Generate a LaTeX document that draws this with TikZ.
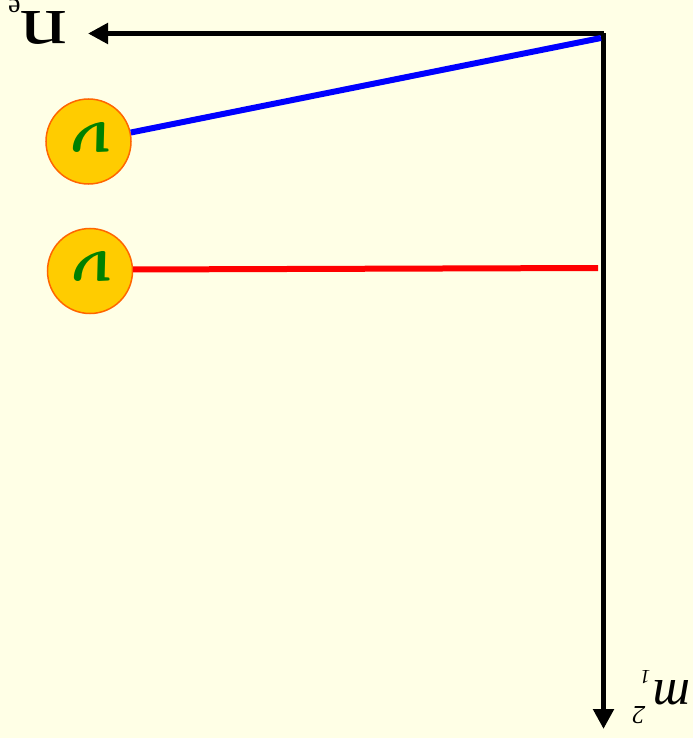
\documentclass[tikz,border=0pt]{standalone}
\usepackage{fontspec}
\setmainfont{Liberation Serif}
\usetikzlibrary{arrows.meta}
\definecolor{bg}{HTML}{FFFFE6}
\definecolor{ballfill}{HTML}{FFCC00}
\definecolor{balledge}{HTML}{FF6600}
\definecolor{nugreen}{HTML}{008000}
\tikzset{
  axis/.style={line width=5pt, -{Triangle[length=20pt,width=20pt]}},
  ball/.style={circle, draw=balledge, line width=1.5pt, fill=ballfill, minimum size=85pt, inner sep=0pt},
  nulab/.style={text=nugreen, rotate=180, xslant=-0.22, inner sep=0pt},
  conn/.style={line width=6pt},
  lab/.style={rotate=180, inner sep=0pt, anchor=base west}
}
\newcommand{\bignu}{\scalebox{3.2}{\fontsize{20}{20}\selectfont\boldmath$\nu$}}
\begin{document}
\begin{tikzpicture}[x=1pt,y=-1pt]
\fill[bg] (0,0) rectangle (693,738);
\useasboundingbox (0,0) rectangle (693,738);
\coordinate (corner) at (603.5,33.5);
\coordinate (netip) at (88,33.5);
\coordinate (mtip) at (603.5,729);
\coordinate (bstart) at (601,38);
\coordinate (rstart) at (598,268);
\draw[axis] (corner) -- (netip);
\draw[axis] (corner) -- (mtip);
\node[ball] (nu1) at (88.5,141.5) {};
\node[ball] (nu2) at (90,271) {};
\node[nulab] (nu1t) at (89,137) {\bignu};
\node[nulab] (nu2t) at (90.5,266) {\bignu};
\draw[conn, blue] (bstart) -- (nu1.12);
\draw[conn, red] (rstart) -- (nu2.2);
\node[lab] (ne) at (68,12) {\scalebox{1.35}[1]{\fontsize{70}{70}\selectfont n}\raisebox{-12pt}{\fontsize{28}{28}\selectfont e}};
\node[lab] (m) at (691,680) {\fontsize{52}{52}\selectfont\textit{m}\kern3pt\rlap{\raisebox{-10pt}{\fontsize{20}{20}\selectfont\textit{1}}}\kern5pt\raisebox{26pt}{\fontsize{26}{26}\selectfont\textit{2}}};
\end{tikzpicture}
\end{document}
